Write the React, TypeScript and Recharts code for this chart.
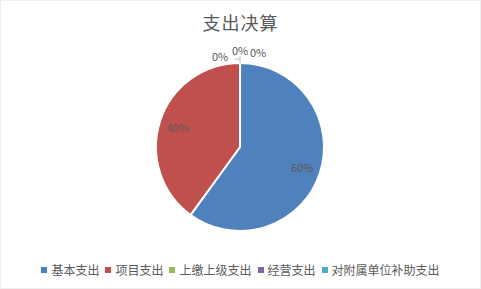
import { PieChart, Pie, Cell, Legend } from 'recharts';

const categories = ['基本支出', '项目支出', '上缴上级支出', '经营支出', '对附属单位补助支出'];
const values = [60, 40, 0, 0, 0];
const COLORS = ['#4F81BD', '#C0504D', '#9BBB59', '#8064A2', '#4BACC6'];

const data = categories.map((name, i) => ({ name, value: values[i] }));

const FONT = '"Noto Sans CJK SC", "Microsoft YaHei", sans-serif';
const RAD = Math.PI / 180;

// offsets for the zero-value labels sitting on top of the pie
const ZERO_OFFSETS: Record<number, [number, number]> = {
  2: [-20, -7],
  3: [0, -13],
  4: [18, -11],
};

function renderLabel(props: any) {
  const { cx, cy, midAngle, outerRadius, index, percent } = props;
  const text = `${Math.round(percent * 100)}%`;
  if (values[index] === 0) {
    const off = ZERO_OFFSETS[index] ?? [0, -15];
    const x = cx + off[0];
    const y = cy - outerRadius + off[1];
    const top = cy - outerRadius;
    return (
      <g key={`l-${index}`}>
        {index === 3 && (
          <path d={`M${cx - 6},${top - 4}H${cx}M${cx},${top - 7}V${top}`} stroke="#BFBFBF" fill="none" strokeWidth={1} />
        )}
        <text x={x} y={y} fill="#595959" stroke="none" fontSize={11} fontFamily={FONT} textAnchor="middle" dominantBaseline="central">
          {text}
        </text>
      </g>
    );
  }
  const r = outerRadius * 0.78;
  const x = cx + r * Math.cos(-midAngle * RAD);
  const y = cy + r * Math.sin(-midAngle * RAD);
  return (
    <text key={`l-${index}`} x={x} y={y} fill="#595959" stroke="none" fontSize={11} fontFamily={FONT} textAnchor="middle" dominantBaseline="central">
      {text}
    </text>
  );
}

function LegendContent() {
  return (
    <div style={{ display: 'flex', justifyContent: 'center', alignItems: 'center', fontSize: 12, fontFamily: FONT, color: '#595959' }}>
      {categories.map((c, i) => (
        <div key={c} style={{ display: 'flex', alignItems: 'center', marginRight: i < categories.length - 1 ? 6 : 0 }}>
          <span style={{ width: 6, height: 6, background: COLORS[i], marginRight: 4, display: 'inline-block' }} />
          <span>{c}</span>
        </div>
      ))}
    </div>
  );
}

export default function App() {
  return (
    <div style={{ position: 'absolute', left: 0, top: 0, width: 481, height: 289, background: '#fff', fontFamily: FONT }}>
      <div
        style={{
          position: 'absolute',
          left: 0,
          top: 0,
          width: 479,
          height: 287,
          border: '1px solid #EFEFEF',
        }}
      />
      <div
        style={{
          position: 'absolute',
          top: 9,
          width: 481,
          textAlign: 'center',
          fontSize: 18,
          color: '#595959',
          letterSpacing: 1,
        }}
      >
        支出决算
      </div>
      <PieChart width={481} height={289} margin={{ top: 0, right: 0, bottom: 0, left: 0 }}>
        <Pie
          data={data}
          dataKey="value"
          nameKey="name"
          cx={240}
          cy={147}
          outerRadius={84}
          startAngle={90}
          endAngle={-270}
          stroke="#FFFFFF"
          strokeWidth={2}
          label={renderLabel}
          labelLine={false}
          isAnimationActive={false}
        >
          {data.map((_, i) => (
            <Cell key={i} fill={COLORS[i]} />
          ))}
        </Pie>
        <Legend verticalAlign="bottom" wrapperStyle={{ bottom: 11 }} content={<LegendContent />} />
      </PieChart>
    </div>
  );
}
